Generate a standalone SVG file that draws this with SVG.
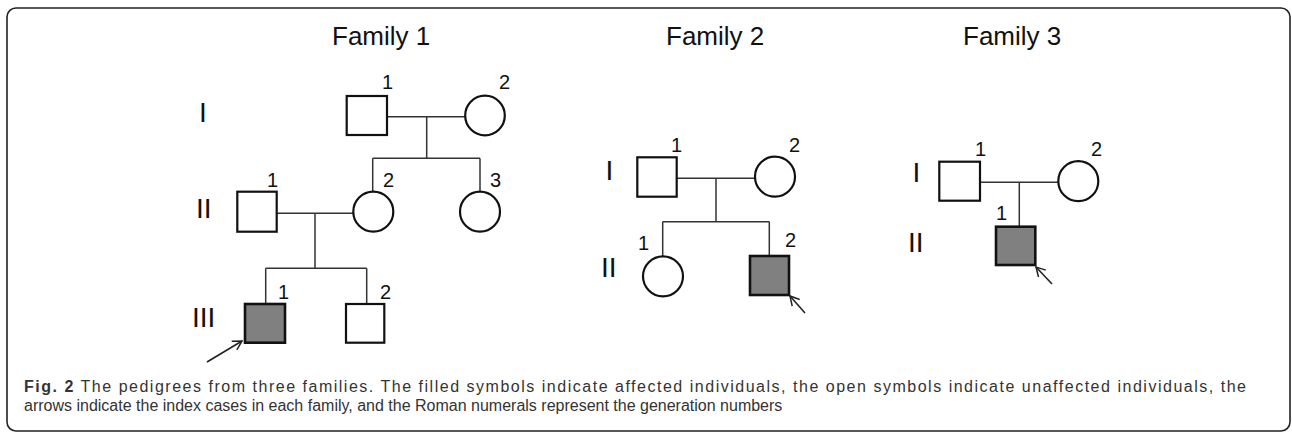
<svg xmlns="http://www.w3.org/2000/svg" width="1292" height="434" viewBox="0 0 1292 434">
<style>
.title{font-family:"Liberation Sans",Arial,sans-serif;font-size:26px;fill:#111}
.num{font-family:"Liberation Sans",Arial,sans-serif;font-size:20px;fill:#111}
.gen{font-family:"Liberation Sans",Arial,sans-serif;font-size:28px;fill:#111}
.sym{fill:#fff;stroke:#111;stroke-width:2.2}
.aff{fill:#808080;stroke:#111;stroke-width:2.6}
.ln{stroke:#333;stroke-width:1.5;fill:none}
.arr{stroke:#222;stroke-width:1.6;fill:none}
.cap{font-family:"Liberation Sans",Arial,sans-serif;font-size:16px;fill:#333}
</style>
<defs>
<marker id="ah" markerWidth="12" markerHeight="12" refX="10" refY="6" orient="auto" markerUnits="userSpaceOnUse">
<path d="M1,1 L10,6 L1,11" fill="none" stroke="#222" stroke-width="1.5"/>
</marker>
</defs>
<rect x="7" y="8" width="1283" height="423" rx="9" ry="9" fill="none" stroke="#222" stroke-width="1.6"/>

<text class="title" x="332" y="45">Family 1</text>
<text class="title" x="666" y="45">Family 2</text>
<text class="title" x="963" y="45">Family 3</text>

<g id="connectors">
<!-- Family 1 -->
<line class="ln" x1="387" y1="116.7" x2="465" y2="116.7"/>
<line class="ln" x1="426.7" y1="116.7" x2="426.7" y2="158.3"/>
<line class="ln" x1="372.7" y1="158.3" x2="480" y2="158.3"/>
<line class="ln" x1="372.7" y1="158.3" x2="372.7" y2="191.7"/>
<line class="ln" x1="480" y1="158.3" x2="480" y2="191.7"/>
<line class="ln" x1="277" y1="213.3" x2="353.3" y2="213.3"/>
<line class="ln" x1="315" y1="213.3" x2="315" y2="268.3"/>
<line class="ln" x1="265.7" y1="268.3" x2="366.7" y2="268.3"/>
<line class="ln" x1="265.7" y1="268.3" x2="265.7" y2="304"/>
<line class="ln" x1="366.7" y1="268.3" x2="366.7" y2="304"/>
<line class="arr" x1="207" y1="362" x2="242" y2="341" marker-end="url(#ah)"/>
<!-- Family 2 -->
<line class="ln" x1="677" y1="178.3" x2="755" y2="178.3"/>
<line class="ln" x1="716" y1="178.3" x2="716" y2="221.7"/>
<line class="ln" x1="662.7" y1="221.7" x2="769.3" y2="221.7"/>
<line class="ln" x1="662.7" y1="221.7" x2="662.7" y2="256"/>
<line class="ln" x1="769.3" y1="221.7" x2="769.3" y2="256"/>
<line class="arr" x1="805" y1="313" x2="790" y2="296" marker-end="url(#ah)"/>
<!-- Family 3 -->
<line class="ln" x1="980" y1="182.3" x2="1058.3" y2="182.3"/>
<line class="ln" x1="1019.3" y1="182.3" x2="1019.3" y2="226.7"/>
<line class="arr" x1="1052" y1="284" x2="1036" y2="267" marker-end="url(#ah)"/>
</g>

<!-- Generation labels -->
<text class="gen" x="199" y="122">I</text>
<text class="gen" x="196" y="218">II</text>
<text class="gen" x="192" y="327">III</text>
<text class="gen" x="605.5" y="180">I</text>
<text class="gen" x="601" y="277">II</text>
<text class="gen" x="912.5" y="182">I</text>
<text class="gen" x="908" y="252">II</text>

<!-- Family 1 nodes -->
<g id="f1-I-1"><rect class="sym" x="346.7" y="96" width="40.3" height="39"/><text class="num" x="382" y="89">1</text></g>
<g id="f1-I-2"><circle class="sym" cx="485" cy="115.5" r="19.8"/><text class="num" x="499" y="89">2</text></g>
<g id="f1-II-1"><rect class="sym" x="237.3" y="191.7" width="39.4" height="40"/><text class="num" x="267" y="187">1</text></g>
<g id="f1-II-2"><circle class="sym" cx="373.3" cy="211.7" r="20"/><text class="num" x="383" y="187">2</text></g>
<g id="f1-II-3"><circle class="sym" cx="480" cy="211.7" r="20"/><text class="num" x="490" y="187">3</text></g>
<g id="f1-III-1"><rect class="aff" x="245" y="304" width="40" height="38.7"/><text class="num" x="278" y="299">1</text></g>
<g id="f1-III-2"><rect class="sym" x="346" y="304" width="38.3" height="38.7"/><text class="num" x="380" y="299">2</text></g>

<!-- Family 2 nodes -->
<g id="f2-I-1"><rect class="sym" x="637.3" y="157.3" width="39.4" height="39.4"/><text class="num" x="671" y="152">1</text></g>
<g id="f2-I-2"><circle class="sym" cx="775" cy="176.7" r="20"/><text class="num" x="789" y="152">2</text></g>
<g id="f2-II-1"><circle class="sym" cx="663" cy="276.3" r="20"/><text class="num" x="638" y="250">1</text></g>
<g id="f2-II-2"><rect class="aff" x="750" y="256" width="39" height="39"/><text class="num" x="785" y="247">2</text></g>

<!-- Family 3 nodes -->
<g id="f3-I-1"><rect class="sym" x="939.3" y="161.7" width="40.7" height="39"/><text class="num" x="975" y="156">1</text></g>
<g id="f3-I-2"><circle class="sym" cx="1078.3" cy="181.2" r="20"/><text class="num" x="1091" y="156">2</text></g>
<g id="f3-II-1"><rect class="aff" x="996" y="226.7" width="39.3" height="38.3"/><text class="num" x="996" y="220">1</text></g>

<text class="cap" x="24" y="392" textLength="1222" lengthAdjust="spacing"><tspan font-weight="bold">Fig. 2</tspan> The pedigrees from three families. The filled symbols indicate affected individuals, the open symbols indicate unaffected individuals, the</text>
<text class="cap" x="24" y="411">arrows indicate the index cases in each family, and the Roman numerals represent the generation numbers</text>
</svg>
